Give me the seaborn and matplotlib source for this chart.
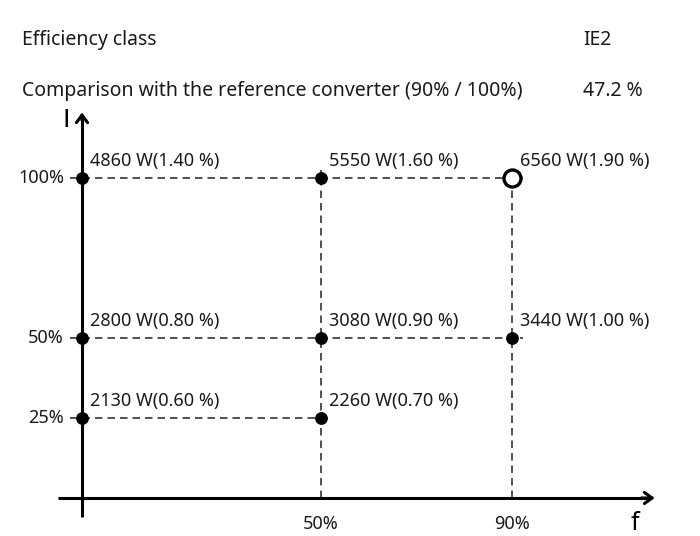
import matplotlib
matplotlib.use("Agg")
import matplotlib.pyplot as plt
import seaborn as sns
import pandas as pd

# ---- data ----
freq = [0, 50, 90, 0, 50, 90, 0, 50]
current = [100, 100, 100, 50, 50, 50, 25, 25]
labels = ["4860 W(1.40 %)", "5550 W(1.60 %)", "6560 W(1.90 %)",
          "2800 W(0.80 %)", "3080 W(0.90 %)", "3440 W(1.00 %)",
          "2130 W(0.60 %)", "2260 W(0.70 %)"]
is_reference = [False, False, True, False, False, False, False, False]
y_ticks = [25, 50, 100]
y_tick_labels = ["25%", "50%", "100%"]
x_ticks = [50, 90]
x_tick_labels = ["50%", "90%"]
header_rows = [("Efficiency class", "IE2"),
               ("Comparison with the reference converter (90% / 100%)", "47.2 %")]

df = pd.DataFrame({"f": freq, "I": current, "label": labels, "ref": is_reference})

sns.set_style("white")
plt.rcParams["font.family"] = ["Noto Sans", "DejaVu Sans"]

fig = plt.figure(figsize=(7.0, 5.36), dpi=100)
ax = fig.add_axes([0, 0, 1, 1])
# map data to pixels: x_px = 82 + 4.78 f ; y_px(from top) = 498 - 3.2 I
ax.set_xlim(-82 / 4.78, (700 - 82) / 4.78)
ax.set_ylim((498 - 536) / 3.2, 498 / 3.2)
ax.patch.set_alpha(0)

for s in ["top", "right", "left", "bottom"]:
    ax.spines[s].set_visible(False)

dash_kw = dict(color="#333333", lw=1.2, ls=(0, (4.5, 3)), zorder=1)
# horizontal dashed lines per row
for lvl in sorted(set(current)):
    row = df[df["I"] == lvl]
    ax.plot([-2.5, row["f"].max() + 2.2], [lvl, lvl], **dash_kw)
# vertical dashed lines per column (except axis column)
for col in sorted(set(freq)):
    if col == 0:
        continue
    c = df[df["f"] == col]
    ax.plot([col, col], [0, c["I"].max() + 2.6], **dash_kw)

# axes with arrows
ax.plot([0, 0], [-6, 119.5], color="black", lw=2.2, zorder=3, solid_capstyle="butt")
ax.plot([-5, 119], [0, 0], color="black", lw=2.2, zorder=3, solid_capstyle="butt")
ax.annotate("", xy=(0, 120.5), xytext=(0, 118), zorder=3,
            arrowprops=dict(arrowstyle="->,head_length=0.55,head_width=0.4", lw=2.2,
                            color="black", shrinkA=0, shrinkB=0))
ax.annotate("", xy=(119.8, 0), xytext=(117, 0), zorder=3,
            arrowprops=dict(arrowstyle="->,head_length=0.55,head_width=0.4", lw=2.2,
                            color="black", shrinkA=0, shrinkB=0))

# points
sns.scatterplot(data=df[~df["ref"]], x="f", y="I", ax=ax, color="black", s=85,
                edgecolor="black", linewidth=0, zorder=4, legend=False)
sns.scatterplot(data=df[df["ref"]], x="f", y="I", ax=ax, color="white", s=150,
                edgecolor="black", linewidth=2.4, zorder=4, legend=False)
ax.set_xlabel("")
ax.set_ylabel("")
ax.set_xticks([])
ax.set_yticks([])

# point labels
for _, r in df.iterrows():
    ax.annotate(r["label"], (r["f"], r["I"]), xytext=(8, 8), textcoords="offset pixels",
                ha="left", va="bottom", fontsize=13, color="#1a1a1a")

# tick labels
for v, t in zip(y_ticks, y_tick_labels):
    ax.annotate(t, (0, v), xytext=(-18, 0), textcoords="offset pixels",
                ha="right", va="center", fontsize=13, color="#1a1a1a")
for v, t in zip(x_ticks, x_tick_labels):
    ax.annotate(t, (v, 0), xytext=(0, -26), textcoords="offset pixels",
                ha="center", va="center", fontsize=13, color="#1a1a1a")

# axis names
ax.annotate("I", (0, 118), xytext=(-16, 0), textcoords="offset pixels",
            ha="center", va="center", fontsize=18, color="black",
            family=["DejaVu Sans"])
ax.annotate("f", (118, 0), xytext=(-11, -26), textcoords="offset pixels",
            ha="center", va="center", fontsize=18, color="black")

# header rows
for i, (name, val) in enumerate(header_rows):
    ypx = 40 + i * 51
    fig.text(22 / 700, 1 - ypx / 536, name, ha="left", va="center", fontsize=14, color="#1a1a1a")
    fig.text(583 / 700, 1 - ypx / 536, val, ha="left", va="center", fontsize=14, color="#1a1a1a")

fig.savefig("out.png", dpi=100)
